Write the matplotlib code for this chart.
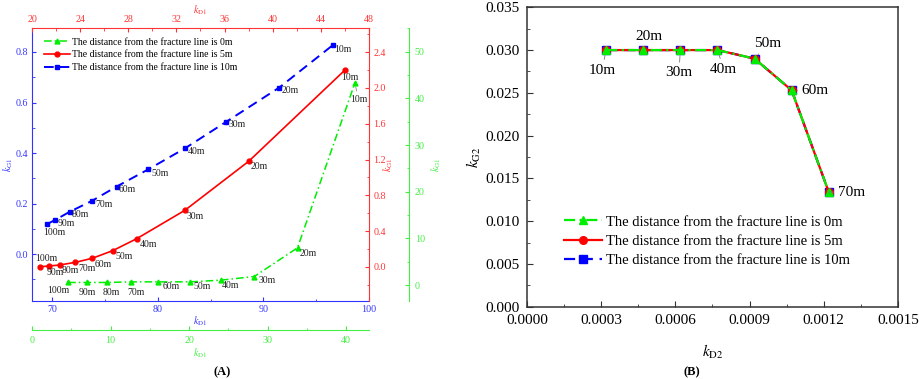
import matplotlib
matplotlib.use("Agg")
import matplotlib.pyplot as plt
from matplotlib.ticker import MultipleLocator

plt.rcParams['font.family'] = ['Liberation Serif', 'DejaVu Serif']
plt.rcParams['mathtext.fontset'] = 'stix'

# ---- data, panel (A) ----
dist_labels = ['100m', '90m', '80m', '70m', '60m', '50m', '40m', '30m', '20m', '10m']

# 10 m from fracture line (blue axes: bottom / left)
blue_x = [69.5, 70.3, 71.7, 73.8, 76.1, 79.1, 82.6, 86.5, 91.5, 96.6]
blue_y = [0.118, 0.135, 0.168, 0.211, 0.267, 0.335, 0.419, 0.524, 0.659, 0.828]
# 5 m (red axes: top / right)
red_x = [20.7, 21.4, 22.3, 23.6, 25.0, 26.7, 28.7, 32.7, 38.0, 46.0]
red_y = [0.003, 0.011, 0.022, 0.052, 0.097, 0.182, 0.316, 0.633, 1.18, 2.2]
# 0 m (green axes: offset bottom / offset right)
green_x = [4.6, 7.0, 9.6, 12.6, 16.1, 20.1, 24.0, 28.3, 33.8, 41.1]
green_y = [0.57, 0.57, 0.57, 0.7, 0.7, 0.7, 1.06, 1.85, 8.0, 43.3]

# ---- data, panel (B) ----
b_labels = ['10m', '20m', '30m', '40m', '50m', '60m', '70m']
kd2 = [0.00032, 0.00047, 0.00062, 0.00077, 0.00092, 0.00107, 0.00122]
kg2 = [0.0300, 0.0300, 0.0300, 0.0300, 0.0290, 0.0253, 0.0134]

leg_names = ['The distance from the fracture line is 0m',
             'The distance from the fracture line is 5m',
             'The distance from the fracture line is 10m']

BLUE, RED, GREEN = '#0000ff', '#ff0000', '#00ee00'
BLUE_T, RED_T, GREEN_T = '#3333ff', '#ff3333', '#44ee44'

fig = plt.figure(figsize=(9.2, 3.79), dpi=100)
rect = [32 / 920, 1 - 301 / 379, 337 / 920, 273 / 379]
fs = 7.2
fsl = 7.0

ax_b = fig.add_axes(rect)
ax_r = fig.add_axes(rect, facecolor='none')
ax_g = fig.add_axes(rect, facecolor='none')

# blue axes
ax_b.set_xlim(68.1, 100)
ax_b.set_ylim(-0.186, 0.895)
for s in ['top', 'right']:
    ax_b.spines[s].set_visible(False)
for s in ['left', 'bottom']:
    ax_b.spines[s].set_color(BLUE_T)
ax_b.xaxis.set_major_locator(MultipleLocator(10))
ax_b.xaxis.set_minor_locator(MultipleLocator(5))
ax_b.yaxis.set_minor_locator(MultipleLocator(0.1))
ax_b.tick_params(which='both', direction='in', colors=BLUE_T, labelsize=fs, pad=3)
ax_b.tick_params(which='major', length=3)
ax_b.tick_params(which='minor', length=1.8)
ax_b.set_yticks([0.0, 0.2, 0.4, 0.6, 0.8])
ax_b.set_yticklabels(['0.0', '0.2', '0.4', '0.6', '0.8'])
ax_b.set_xlabel(r'$k_{\mathrm{D1}}$', color=BLUE_T, fontsize=fs, labelpad=0)
ax_b.set_ylabel(r'$k_{\mathrm{G1}}$', color=BLUE_T, fontsize=fs, labelpad=0.5)

# red axes
ax_r.set_xlim(20, 48)
ax_r.set_ylim(-0.38, 2.67)
ax_r.xaxis.tick_top()
ax_r.yaxis.tick_right()
ax_r.xaxis.set_label_position('top')
ax_r.yaxis.set_label_position('right')
for s in ['left', 'bottom']:
    ax_r.spines[s].set_visible(False)
for s in ['top', 'right']:
    ax_r.spines[s].set_color(RED_T)
ax_r.xaxis.set_major_locator(MultipleLocator(4))
ax_r.xaxis.set_minor_locator(MultipleLocator(2))
ax_r.yaxis.set_major_locator(MultipleLocator(0.4))
ax_r.yaxis.set_minor_locator(MultipleLocator(0.2))
ax_r.tick_params(which='both', direction='in', colors=RED_T, labelsize=fs, pad=3)
ax_r.tick_params(which='major', length=3)
ax_r.tick_params(which='minor', length=1.8)
ax_r.set_xlabel(r'$k_{\mathrm{D1}}$', color=RED_T, fontsize=fs, labelpad=1)
ax_r.set_ylabel(r'$k_{\mathrm{G1}}$', color=RED_T, fontsize=fs, labelpad=-3)

# green axes
ax_g.set_xlim(0, 42.9)
ax_g.set_ylim(-3.4, 55.1)
ax_g.yaxis.tick_right()
ax_g.yaxis.set_label_position('right')
for s in ['left', 'top']:
    ax_g.spines[s].set_visible(False)
ax_g.spines['bottom'].set_position(('outward', 21))
ax_g.spines['right'].set_position(('outward', 29))
for s in ['bottom', 'right']:
    ax_g.spines[s].set_color(GREEN_T)
ax_g.xaxis.set_major_locator(MultipleLocator(10))
ax_g.xaxis.set_minor_locator(MultipleLocator(5))
ax_g.yaxis.set_major_locator(MultipleLocator(10))
ax_g.yaxis.set_minor_locator(MultipleLocator(5))
ax_g.tick_params(which='both', direction='in', colors=GREEN_T, labelsize=fs, pad=4)
ax_g.tick_params(which='major', length=3)
ax_g.tick_params(which='minor', length=1.8)
ax_g.set_xlabel(r'$k_{\mathrm{D1}}$', color=GREEN_T, fontsize=fs, labelpad=1)
ax_g.set_ylabel(r'$k_{\mathrm{G1}}$', color=GREEN_T, fontsize=fs, labelpad=3)

# series
lb, = ax_b.plot(blue_x, blue_y, color=BLUE, ls=(0, (5, 3)), lw=1.4,
                marker='s', ms=3.5, label=leg_names[2])
lr, = ax_r.plot(red_x, red_y, color=RED, ls='-', lw=1.2,
                marker='o', ms=3.5, label=leg_names[1])
lg, = ax_g.plot(green_x, green_y, color=GREEN, ls=(0, (5, 2, 1, 2)), lw=1.1,
                marker='^', ms=3.5, label=leg_names[0])

blue_off = [(-3.4, -8.4), (2.3, -3.3), (1.7, -3.3), (3.3, -3.3), (2.6, -3.3),
            (3.3, -4), (2.3, -3.4), (2.3, -3.3), (2.7, -3), (1, -4.3)]
red_off = [(-5, 8.4), (-2, -6), (1.7, -5.7), (3.3, -6), (2.7, -6),
           (2.3, -6), (2.6, -5.6), (1.7, -6.4), (2.4, -5.4), (-3.6, -7.7)]
green_off = [(-20.6, -8.4), (-8.4, -10), (-4.6, -9.7), (-4, -10.3), (4, -4.6),
             (4, -4.6), (1, -5.7), (4.3, -3.7), (2, -5.7), (-5, -16.6)]
green_leader = [True, False, False, False, False, False, False, False, False, True]

for ax, xs, ys, offs, leads in [(ax_b, blue_x, blue_y, blue_off, [False] * 10),
                                (ax_r, red_x, red_y, red_off, [False] * 10),
                                (ax_g, green_x, green_y, green_off, green_leader)]:
    for x, y, lab, off, ld in zip(xs, ys, dist_labels, offs, leads):
        props = dict(arrowstyle='-', color='#777777', lw=0.5, shrinkA=1, shrinkB=3) if ld else None
        ax.annotate(lab, (x, y), xytext=off, textcoords='offset pixels',
                    ha='left', va='center', fontsize=fsl, color='#222222',
                    arrowprops=props)

ax_g.legend(handles=[lg, lr, lb], loc='upper left', bbox_to_anchor=(0.035, 0.965),
            frameon=False, fontsize=fsl, handlelength=2.7, handletextpad=0.2,
            labelspacing=0.4, borderpad=0, borderaxespad=0)

fig.text(222 / 920, 1 - 372 / 379, '(A)', fontsize=9, fontweight='bold',
         ha='center', va='center')

# ---- panel (B) ----
ax2 = fig.add_axes([527 / 920, 1 - 306.7 / 379, 371 / 920, 299.4 / 379])
fs2 = 11
b_series = [
    (BLUE, (0, (5, 3)), 's', leg_names[2]),
    (RED, '-', 'o', leg_names[1]),
    (GREEN, (0, (5, 2, 1, 2)), '^', leg_names[0]),
]
handles = {}
for col, ls, mk, name in b_series:
    h, = ax2.plot(kd2, kg2, color=col, ls=ls, lw=1.6, marker=mk, ms=5.5, label=name)
    handles[name] = h

ax2.set_xlim(0, 0.0015)
ax2.set_ylim(0, 0.035)
ax2.xaxis.set_major_locator(MultipleLocator(0.0003))
ax2.xaxis.set_minor_locator(MultipleLocator(0.00015))
ax2.yaxis.set_major_locator(MultipleLocator(0.005))
ax2.yaxis.set_minor_locator(MultipleLocator(0.0025))
ax2.xaxis.set_major_formatter(plt.FormatStrFormatter('%.4f'))
ax2.yaxis.set_major_formatter(plt.FormatStrFormatter('%.3f'))
ax2.tick_params(which='both', direction='in', top=False, right=False,
                labelsize=fs2, color='#333333', pad=5)
ax2.tick_params(which='major', length=4)
ax2.tick_params(which='minor', length=2.5)
for s in ax2.spines.values():
    s.set_color('#333333')
    s.set_linewidth(1.1)
ax2.set_xlabel(r'$k_{\mathrm{D2}}$', fontsize=fs2, labelpad=12)
ax2.set_ylabel(r'$k_{\mathrm{G2}}$', fontsize=fs2, labelpad=2)

b_off = [(-17.7, -20), (-7.7, 13.3), (-15, -22.7), (-7.3, -19),
         (-0.7, 15), (10, 0), (9, 0)]
leader = [True, False, True, True, True, True, True]
for x, y, lab, off, ld in zip(kd2, kg2, b_labels, b_off, leader):
    props = dict(arrowstyle='-', color='#777777', lw=0.6, shrinkA=1, shrinkB=4) if ld else None
    ax2.annotate(lab, (x, y), xytext=off, textcoords='offset pixels',
                 ha='left', va='center', fontsize=fs2, arrowprops=props)

ax2.legend(handles=[handles[leg_names[0]], handles[leg_names[1]], handles[leg_names[2]]],
           loc='upper left', bbox_to_anchor=(0.1, 0.305), frameon=False,
           fontsize=10.5, handlelength=2.6, handletextpad=0.3,
           labelspacing=0.42, borderpad=0, borderaxespad=0)

fig.text(692 / 920, 1 - 372 / 379, '(B)', fontsize=9, fontweight='bold',
         ha='center', va='center')

fig.savefig('out.png', dpi=100)
